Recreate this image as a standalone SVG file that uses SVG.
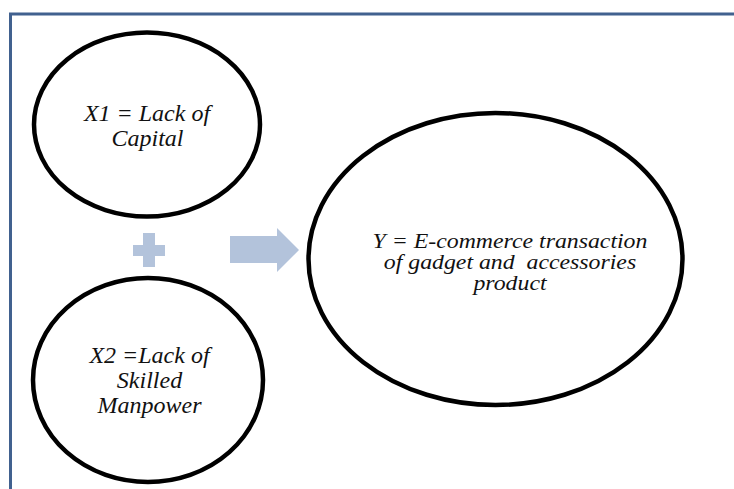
<svg xmlns="http://www.w3.org/2000/svg" width="734" height="489" viewBox="0 0 734 489">
  <style>
    .frame { fill: none; stroke: #41618f; stroke-width: 3; }
    .node { fill: #ffffff; stroke: #000000; stroke-width: 4.5; }
    .label { font-family: "Liberation Serif", "Times New Roman", serif; font-style: italic; font-size: 24px; fill: #111111; text-anchor: middle; white-space: pre; }
    .label.tight { font-size: 20px; }
    .sign { fill: #b3c3db; }
  </style>

  <rect width="734" height="489" fill="#ffffff"/>

  <!-- page frame: top and left rules -->
  <path class="frame" d="M10.5 489 V14 H734"/>

  <g id="x1-capital">
    <ellipse class="node" cx="147" cy="124.5" rx="113" ry="92"/>
    <text class="label" x="147" y="121">X1 = Lack of</text>
    <text class="label" x="147.5" y="146">Capital</text>
  </g>

  <g id="x2-manpower">
    <ellipse class="node" cx="148" cy="380" rx="115" ry="102"/>
    <text class="label" x="149.5" y="363">X2 =Lack of</text>
    <text class="label" x="149.5" y="388">Skilled</text>
    <text class="label" x="149.5" y="413">Manpower</text>
  </g>

  <g id="y-ecommerce">
    <ellipse class="node" cx="495.5" cy="259" rx="187" ry="146"/>
    <g transform="translate(510 0) scale(1.19 1)">
      <text class="label tight" x="0" y="248">Y = E-commerce transaction</text>
      <text class="label tight" x="0" y="269">of gadget and  accessories</text>
      <text class="label tight" x="0" y="290">product</text>
    </g>
  </g>

  <g id="connectors">
    <!-- plus sign between the two causes -->
    <path class="sign" d="M143 233 H155 V245 H165 V256 H155 V267 H143 V256 H133 V245 H143 Z"/>
    <!-- block arrow toward the outcome -->
    <path class="sign" d="M230 236 H277 V228 L299 250 L277 272 V263 H230 Z"/>
  </g>
</svg>
